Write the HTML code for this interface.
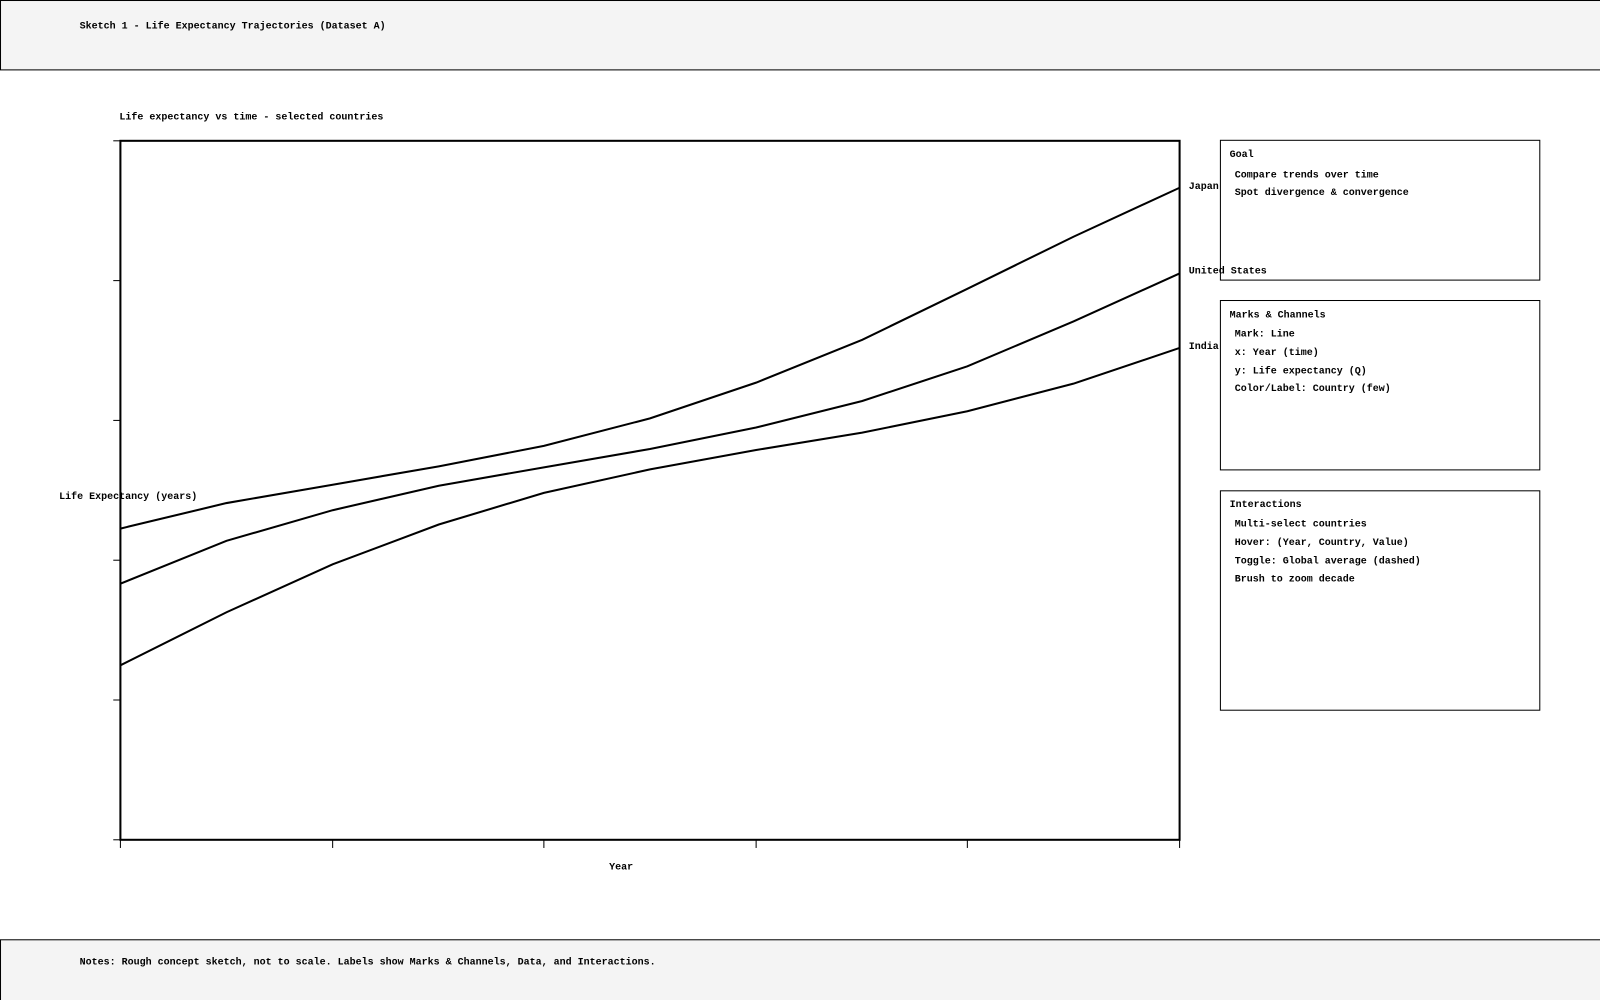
<!DOCTYPE html>
<html><head><meta charset="utf-8"><style>
html,body{margin:0;padding:0;background:#fff;width:1600px;height:1000px;overflow:hidden}
svg{display:block}
text{font-family:"Liberation Mono",monospace;font-weight:bold;font-size:9.8px;fill:#000}
</style></head><body>
<svg width="1600" height="1000" viewBox="0 0 1568 980" xmlns="http://www.w3.org/2000/svg">
<rect x="0.5" y="0.5" width="1580" height="68" fill="#f4f4f4" stroke="#000" stroke-width="1"/>
<text x="78" y="28">Sketch 1 - Life Expectancy Trajectories (Dataset A)</text>
<text x="117" y="117">Life expectancy vs time - selected countries</text>
<rect x="118" y="138" width="1038" height="685" fill="none" stroke="#000" stroke-width="2"/>
<g stroke="#000" stroke-width="1">
<line x1="111" y1="138" x2="118" y2="138"/><line x1="111" y1="275" x2="118" y2="275"/><line x1="111" y1="412" x2="118" y2="412"/><line x1="111" y1="549" x2="118" y2="549"/><line x1="111" y1="686" x2="118" y2="686"/><line x1="111" y1="823" x2="118" y2="823"/>
<line x1="118" y1="823" x2="118" y2="831"/><line x1="326" y1="823" x2="326" y2="831"/><line x1="533" y1="823" x2="533" y2="831"/><line x1="741" y1="823" x2="741" y2="831"/><line x1="948" y1="823" x2="948" y2="831"/><line x1="1156" y1="823" x2="1156" y2="831"/>
</g>
<g fill="none" stroke="#000" stroke-width="2">
<polyline points="118,518 222,493 326,475 430,457 533,437 637,410 741,375 845,333 948,283 1052,232 1156,184"/>
<polyline points="118,572 222,530 326,500 430,476 533,458 637,440 741,419 845,393 948,359 1052,315 1156,268"/>
<polyline points="118,652 222,600 326,553 430,514 533,483 637,460 741,441 845,424 948,403 1052,376 1156,341"/>
</g>
<text x="1165" y="185">Japan</text>
<text x="1165" y="268">United States</text>
<text x="1165" y="342">India</text>
<text x="58" y="489">Life Expectancy (years)</text>
<text x="597" y="852">Year</text>
<rect x="1196" y="137.5" width="313" height="137" fill="none" stroke="#000" stroke-width="1"/>
<text x="1205" y="154">Goal</text>
<text x="1210" y="174">Compare trends over time</text>
<text x="1210" y="191">Spot divergence &amp; convergence</text>
<rect x="1196" y="294.5" width="313" height="166" fill="none" stroke="#000" stroke-width="1"/>
<text x="1205" y="311">Marks &amp; Channels</text>
<text x="1210" y="330">Mark: Line</text>
<text x="1210" y="348">x: Year (time)</text>
<text x="1210" y="366">y: Life expectancy (Q)</text>
<text x="1210" y="383">Color/Label: Country (few)</text>
<rect x="1196" y="481" width="313" height="215" fill="none" stroke="#000" stroke-width="1"/>
<text x="1205" y="497">Interactions</text>
<text x="1210" y="516">Multi-select countries</text>
<text x="1210" y="534">Hover: (Year, Country, Value)</text>
<text x="1210" y="552">Toggle: Global average (dashed)</text>
<text x="1210" y="570">Brush to zoom decade</text>
<rect x="0.5" y="921" width="1580" height="70" fill="#f4f4f4" stroke="#000" stroke-width="1"/>
<text x="78" y="945">Notes: Rough concept sketch, not to scale. Labels show Marks &amp; Channels, Data, and Interactions.</text>
</svg>
</body></html>
